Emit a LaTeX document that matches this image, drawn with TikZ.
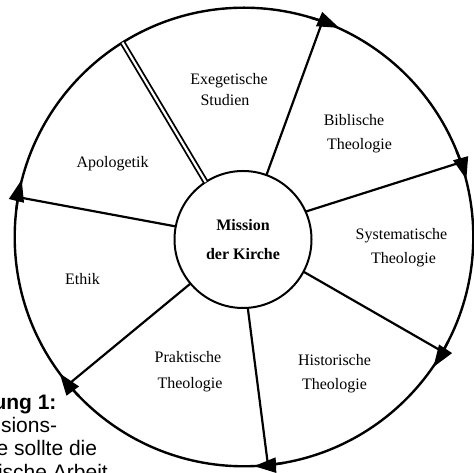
\documentclass[tikz,border=0pt]{standalone}
\usepackage{fontspec}
\setmainfont{Liberation Serif}
\newfontfamily\capfont{Liberation Sans}
\usetikzlibrary{arrows.meta}
\begin{document}
\begin{tikzpicture}[x=1pt,y=1pt,
  ring/.style={circle, draw, line width=2.4pt, minimum size=458.6pt, inner sep=0pt, outer sep=0pt},
  hub/.style={circle, draw, line width=2pt, minimum size=137pt, inner sep=0pt, outer sep=0pt, align=center, font=\fontsize{16}{29}\selectfont\bfseries},
  spoke/.style={line width=2.2pt},
  split/.style={double, line width=1.8pt, double distance=2.2pt},
  flow/.style={line width=2.4pt, -{Triangle[length=22pt,width=15pt]}},
  lbl/.style={font=\fontsize{16}{19}\selectfont, anchor=base, inner sep=0pt},
  captext/.style={font=\capfont\fontsize{21}{23}\selectfont, anchor=base east, inner sep=0pt},
  captextb/.style={captext, font=\capfont\bfseries\fontsize{21}{23}\selectfont}]
\path[use as bounding box] (0,0) rectangle (474,473);
\clip (0,0) rectangle (474,473);
\node[ring] (O) at (244,236) {};
\node[hub] (M) at (243,233.5) {Mission\\der Kirche};
% spokes
\draw[split] (M.123.9) -- (O.122.2);
\draw[spoke] (M.70.2) -- (O.70.76);
\draw[spoke] (M.24.7) -- (O.19.57);
\draw[spoke] (M.332.4) -- (O.330.7);
\draw[spoke] (M.274) -- (O.276.94);
\draw[spoke] (M.220.6) -- (O.220.8);
\draw[spoke] (M.169.6) -- (O.170.4);
% arrowheads on the ring, clockwise
\draw[flow] (O.73.96) arc[start angle=73.96, end angle=66.46, radius=229.3pt];
\draw[flow] (O.22.77) arc[start angle=22.77, end angle=15.27, radius=229.3pt];
\draw[flow] (O.333.9) arc[start angle=333.9, end angle=326.4, radius=229.3pt];
\draw[flow] (O.280.14) arc[start angle=280.14, end angle=272.64, radius=229.3pt];
\draw[flow] (O.224) arc[start angle=224, end angle=216.5, radius=229.3pt];
\draw[flow] (O.173.6) arc[start angle=173.6, end angle=166.1, radius=229.3pt];
% labels
\node[lbl] (exe1) at (229,388.7) {Exegetische};
\node[lbl] (exe2) at (225,367.7) {Studien};
\node[lbl] (bib1) at (354,347.7) {Biblische};
\node[lbl] (bib2) at (359.5,323.7) {Theologie};
\node[lbl] (sys1) at (401.5,233) {Systematische};
\node[lbl] (sys2) at (403.5,209.7) {Theologie};
\node[lbl] (apo) at (112.5,305.7) {Apologetik};
\node[lbl] (eth) at (82.5,188) {Ethik};
\node[lbl] (pra1) at (188,110.7) {Praktische};
\node[lbl] (pra2) at (190,84.3) {Theologie};
\node[lbl] (his1) at (334.5,107) {Historische};
\node[lbl] (his2) at (334.5,83.7) {Theologie};
% caption fragments
\node[captextb] (c1) at (56.7,63.7) {ung 1:};
\node[captext] (c2) at (57.3,40.3) {sions-};
\node[captext] (c3) at (97.3,17) {e sollte die};
\node[captext] (c4) at (108,-6.3) {ische Arbeit};
\end{tikzpicture}
\end{document}
